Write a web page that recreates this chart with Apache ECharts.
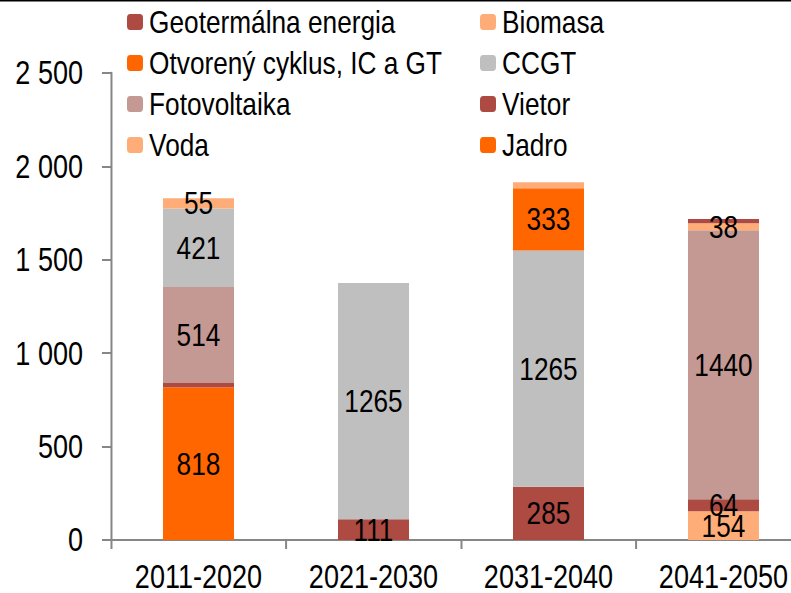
<!DOCTYPE html>
<html>
<head>
<meta charset="utf-8">
<script src="https://cdn.jsdelivr.net/npm/echarts@6/dist/echarts.min.js"></script>
<style>
  html, body { margin: 0; padding: 0; background: #fff; overflow: hidden; }
  /* the reference uses a narrow font; draw wider and squeeze horizontally */
  #chart { width: 1000px; height: 593px; transform: scaleX(0.8197); transform-origin: 0 0; }
</style>
</head>
<body>
<div id="chart"></div>
<script>
// data
const categories = ['2011-2020', '2021-2030', '2031-2040', '2041-2050'];
const jadro = [818, 0, 0, 0];
const voda = [0, 0, 0, 154];
const vietor = [22, 111, 285, 64];
const fotovoltaika = [514, 0, 0, 1440];
const ccgt = [421, 1265, 1265, 0];
const otvoreny = [0, 0, 333, 0];
const biomasa = [55, 0, 32, 38];
const geotermalna = [0, 0, 0, 22];
const yTicks = [0, 500, 1000, 1500, 2000, 2500];

// small slices that carry no label in the original
const hiddenLabels = { 'Vietor': [0], 'Biomasa': [2], 'Geotermálna energia': [3] };

const sx = 0.8197; // horizontal squeeze, same as in the css
const W = 1000;    // drawing width before the squeeze
const font = '"Liberation Sans", Arial, sans-serif';

const myChart = echarts.init(document.getElementById('chart'), null, { renderer: 'svg' });

function makeSeries(name, data, color) {
  return {
    name: name,
    type: 'bar',
    stack: 'total',
    barWidth: 71 / sx,
    itemStyle: { color: color },
    label: {
      show: true,
      position: 'inside',
      color: '#000',
      fontFamily: font,
      fontSize: 32,
      formatter: p => {
        if (!p.value) return '';
        const h = hiddenLabels[name];
        if (h && h.indexOf(p.dataIndex) >= 0) return '';
        return String(p.value);
      }
    },
    data: data
  };
}

const legendText = { color: '#000', fontFamily: font, fontSize: 32, lineHeight: 32, padding: [0, 0, 0, 2 / sx] };

// plot area 111px .. 811px on screen, so the last category runs past the right edge
const gridLeft = 111 / sx;
const gridRight = W - 811 / sx;

const option = {
  animation: false,
  textStyle: { fontFamily: font },
  legend: [
    {
      orient: 'vertical', left: 127 / sx, top: 6, padding: 0,
      itemWidth: 16 / sx, itemHeight: 16, itemGap: 9,
      selectedMode: false,
      textStyle: legendText,
      data: ['Geotermálna energia', 'Otvorený cyklus, IC a GT', 'Fotovoltaika', 'Voda']
    },
    {
      orient: 'vertical', left: 480 / sx, top: 6, padding: 0,
      itemWidth: 16 / sx, itemHeight: 16, itemGap: 9,
      selectedMode: false,
      textStyle: legendText,
      data: ['Biomasa', 'CCGT', 'Vietor', 'Jadro']
    }
  ],
  grid: { left: gridLeft, right: gridRight, top: 73, bottom: 52 },
  xAxis: {
    type: 'category',
    data: categories,
    axisLine: { lineStyle: { color: '#868686', width: 2 } },
    axisTick: { show: true, length: 9, lineStyle: { color: '#868686', width: 2 / sx } },
    axisLabel: { color: '#000', fontSize: 33, fontFamily: font, margin: 20, interval: 0 }
  },
  yAxis: {
    type: 'value',
    min: yTicks[0],
    max: yTicks[yTicks.length - 1],
    interval: 500,
    splitLine: { show: false },
    axisLine: { show: true, lineStyle: { color: '#868686', width: 2 / sx } },
    axisTick: { show: true, length: 9 / sx, lineStyle: { color: '#868686', width: 2 } },
    axisLabel: {
      color: '#000', fontSize: 33, fontFamily: font, margin: 28 / sx,
      formatter: v => String(v).replace(/\B(?=(\d{3})+(?!\d))/g, ' ')
    }
  },
  graphic: [
    { type: 'line', shape: { x1: 0, y1: 0.75, x2: W, y2: 0.75 }, style: { stroke: '#000', lineWidth: 1.5 } }
  ],
  series: [
    makeSeries('Jadro', jadro, '#FF6600'),
    makeSeries('Voda', voda, '#FFAD78'),
    makeSeries('Vietor', vietor, '#AD4A42'),
    makeSeries('Fotovoltaika', fotovoltaika, '#C49893'),
    makeSeries('CCGT', ccgt, '#BFBFBF'),
    makeSeries('Otvorený cyklus, IC a GT', otvoreny, '#FF6600'),
    makeSeries('Biomasa', biomasa, '#FFAD78'),
    makeSeries('Geotermálna energia', geotermalna, '#AD4A42')
  ]
};

myChart.setOption(option, true);
</script>
</body>
</html>
